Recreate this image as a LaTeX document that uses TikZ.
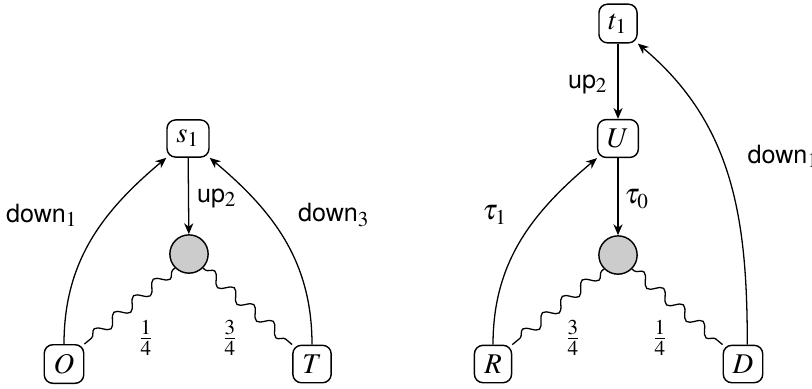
\documentclass[tikz,border=0pt]{standalone}
\usepackage{mathptmx}
\usepackage{fontspec}
\setsansfont[Scale=0.88]{TeX Gyre Heros}
\usetikzlibrary{arrows.meta,decorations.pathmorphing}
\tikzset{
  st/.style={draw, line width=0.5pt, rounded corners=3pt, minimum height=13pt, minimum width=13pt, inner sep=3.3pt},
  dot/.style={draw, line width=0.5pt, circle, fill=black!20, minimum size=13.4pt, inner sep=0pt},
  arr/.style={-{Stealth[length=3.8pt,width=3.2pt,inset=1.2pt]}, line width=0.45pt},
  wig/.style={line width=0.45pt, decorate, decoration={snake, amplitude=1.9pt, segment length=9pt, pre length=1pt, post length=1pt}},
  lab/.style={inner sep=0pt}
}
\begin{document}
\begin{tikzpicture}[x=0.35pt,y=-0.35pt]
\useasboundingbox (0,0) rectangle (812,388);
% left
\node[st] (s1) at (188,138.5) {$s_1$};
\node[dot] (c1) at (189,254) {};
\node[st] (O) at (64,364) {$O$};
\node[st] (T) at (312,364) {$T$};
\draw[arr] (s1) -- (c1);
\draw[arr] (O.north) to[out=90,in=-140] (s1.south west);
\draw[arr] (T.north) to[out=90,in=-40] (s1.south east);
\draw[wig] (c1.-135) -- (O.north east);
\draw[wig] (c1.-45) -- (T.north west);
\node[lab] at (42,215) {\textsf{down}$_1$};
\node[lab] at (217,198) {\textsf{up}$_2$};
\node[lab] at (334,215) {\textsf{down}$_3$};
\node[lab] at (146,338) {$\frac{1}{4}$};
\node[lab] at (230,338) {$\frac{3}{4}$};
% right
\node[st] (t1) at (618,23.5) {$t_1$};
\node[st] (U) at (618,138.5) {$U$};
\node[dot] (c2) at (618,255) {};
\node[st] (R) at (493,364) {$R$};
\node[st] (D) at (743,364) {$D$};
\draw[arr] (t1) -- (U);
\draw[arr] (U) -- (c2);
\draw[arr] (R.north) to[out=90,in=-140] (U.south west);
\draw[arr] ([xshift=1.5pt]D.north) to[out=90,in=-40] (t1.south east);
\draw[wig] (c2.-135) -- (R.north east);
\draw[wig] (c2.-45) -- (D.north west);
\node[lab] at (588,84) {\textsf{up}$_2$};
\node[lab] at (637,199) {$\tau_0$};
\node[lab] at (495,215) {$\tau_1$};
\node[lab,anchor=west] at (747,156) {\textsf{down}$_1$};
\node[lab] at (573,338) {$\frac{3}{4}$};
\node[lab] at (660,338) {$\frac{1}{4}$};
\end{tikzpicture}
\end{document}
